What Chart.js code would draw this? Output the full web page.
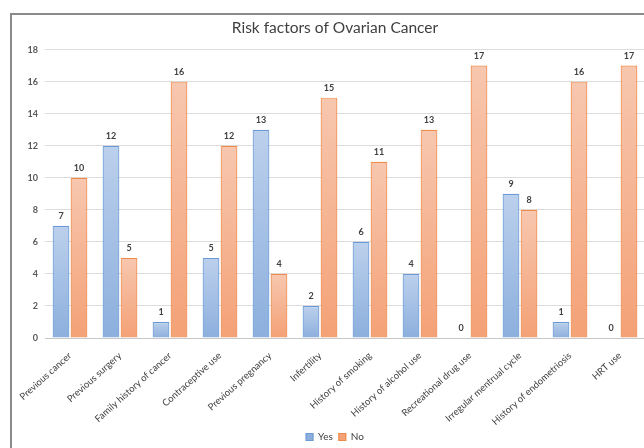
<!DOCTYPE html>
<html>
<head>
<meta charset="utf-8">
<script src="https://cdn.jsdelivr.net/npm/chart.js@4/dist/chart.umd.min.js"></script>
<style>
  html, body { margin: 0; padding: 0; background: #fff; overflow: hidden; }
  #wrap { position: relative; width: 644px; height: 448px; overflow: hidden; }
  #frame { position: absolute; left: 10px; top: 13px; width: 700px; height: 500px;
           border-left: 2px solid #8a8a8a; border-top: 2px solid #8a8a8a; }
  #box { position: absolute; left: 0; top: 0; width: 662px; height: 452px; }
</style>
</head>
<body>
<div id="wrap">
  <div id="frame"></div>
  <div id="box"><canvas id="c" width="662" height="452"></canvas></div>
</div>
<script>
const categories = [
  'Previous cancer', 'Previous surgery', 'Family history of cancer', 'Contraceptive use',
  'Previous pregnancy', 'Infertility', 'History of smoking', 'History of alcohol use',
  'Recreational drug use', 'Irregular mentrual cycle', 'History of endometriosis', 'HRT use'
];
const yesValues = [7, 12, 1, 5, 13, 2, 6, 4, 0, 9, 1, 0];
const noValues = [10, 5, 16, 12, 4, 15, 11, 13, 17, 8, 16, 17];
const yTicks = [0, 2, 4, 6, 8, 10, 12, 14, 16, 18];

const FONT = 'Lato, "Open Sans", sans-serif';

// vertical gradient per bar, light at the top, deeper toward the baseline
function barGradient(top, bottom) {
  return function (ctx) {
    const chart = ctx.chart;
    const y = chart.scales.y;
    if (!chart.chartArea || !y || ctx.raw === undefined) return bottom;
    const yTop = y.getPixelForValue(ctx.raw);
    const yBase = y.getPixelForValue(0);
    if (yBase - yTop < 1) return bottom;
    const g = chart.ctx.createLinearGradient(0, yTop, 0, yBase);
    g.addColorStop(0, top);
    g.addColorStop(1, bottom);
    return g;
  };
}

// value labels above each bar
const valueLabels = {
  id: 'valueLabels',
  afterDatasetsDraw(chart) {
    const ctx = chart.ctx;
    ctx.save();
    ctx.font = 'bold 9px ' + FONT;
    ctx.fillStyle = '#404040';
    ctx.textAlign = 'center';
    ctx.textBaseline = 'bottom';
    chart.data.datasets.forEach((ds, i) => {
      const meta = chart.getDatasetMeta(i);
      meta.data.forEach((el, j) => {
        ctx.fillText(String(ds.data[j]), el.x, el.y - 5);
      });
    });
    ctx.restore();
  }
};

new Chart(document.getElementById('c'), {
  type: 'bar',
  data: {
    labels: categories,
    datasets: [
      {
        label: 'Yes',
        data: yesValues,
        backgroundColor: barGradient('#bcd0ec', '#8cafdd'),
        borderColor: '#6a9bd6',
        borderWidth: 1.2,
        categoryPercentage: 0.72,
        barPercentage: 0.93
      },
      {
        label: 'No',
        data: noValues,
        backgroundColor: barGradient('#f7c7af', '#f4a176'),
        borderColor: '#ee8a4c',
        borderWidth: 1.2,
        categoryPercentage: 0.72,
        barPercentage: 0.93
      }
    ]
  },
  options: {
    responsive: false,
    animation: false,
    layout: { padding: { left: 12, right: 4, top: 12, bottom: 0 } },
    plugins: {
      title: {
        display: true,
        text: 'Risk factors of Ovarian Cancer',
        color: '#404040',
        font: { family: FONT, size: 15.5, weight: 'normal' },
        padding: { top: 7, bottom: 12 }
      },
      legend: {
        position: 'bottom',
        labels: {
          color: '#404040',
          font: { family: FONT, size: 10 },
          boxWidth: 7,
          boxHeight: 7,
          padding: 6
        }
      },
      tooltip: { enabled: false }
    },
    scales: {
      x: {
        grid: { display: false },
        border: { color: '#c8c8c8' },
        afterFit(scale) { scale.height = 88; },
        ticks: {
          color: '#404040',
          font: { family: FONT, size: 9.5 },
          minRotation: 42,
          maxRotation: 42,
          autoSkip: false,
          padding: 4
        }
      },
      y: {
        min: 0,
        max: 18,
        afterBuildTicks(scale) { scale.ticks = yTicks.map(v => ({ value: v })); },
        afterFit(scale) { scale.width = 33; },
        grid: { color: '#dcdcdc', drawTicks: false },
        border: { display: false },
        ticks: {
          color: '#595959',
          font: { family: FONT, size: 9, weight: 'bold' },
          padding: 7
        }
      },
      edge: {
        position: 'right',
        display: true,
        grid: { display: false, drawTicks: false },
        border: { display: false },
        ticks: { display: false },
        afterFit(scale) { scale.width = 13; }
      }
    }
  },
  plugins: [valueLabels]
});
</script>
</body>
</html>
